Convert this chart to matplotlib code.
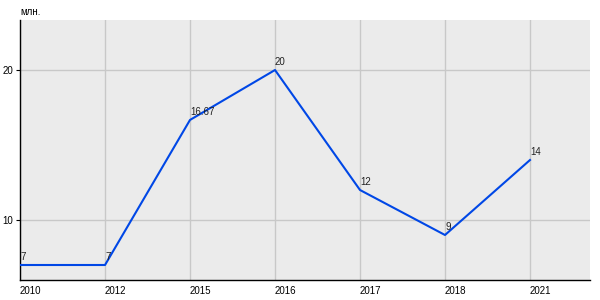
import matplotlib
matplotlib.use("Agg")
import matplotlib.pyplot as plt

years = ["2010", "2012", "2015", "2016", "2017", "2018", "2021"]
values = [7, 7, 16.67, 20, 12, 9, 14]
labels = ["7", "7", "16.67", "20", "12", "9", "14"]
yticks = [10, 20]

plt.rcParams['font.family'] = ['Liberation Sans', 'DejaVu Sans']
fig = plt.figure(figsize=(6, 3), dpi=100)
ax = fig.add_axes([20/600, 20/300, 570/600, 260/300])
ax.set_facecolor("#ebebeb")
x = list(range(len(years)))
ax.plot(x, values, color="#0047e6", lw=1.5, zorder=3)
for xi, v, l in zip(x, values, labels):
    ax.annotate(l, (xi, v), xytext=(0, 2), textcoords="offset points",
                fontsize=7, ha="left", va="bottom", color="#222222", zorder=4)
ax.set_xlim(0, 570/85)
ax.set_ylim(6, 6 + 260/15)
ax.set_xticks(x)
ax.set_xticklabels(years)
ax.set_yticks(yticks)
ax.grid(True, color="#c8c8c8", lw=1)
ax.set_axisbelow(True)
for s in ["top", "right"]:
    ax.spines[s].set_visible(False)
for s in ["left", "bottom"]:
    ax.spines[s].set_color("black")
    ax.spines[s].set_linewidth(1)
ax.tick_params(axis="x", length=0, labelsize=7, pad=4)
ax.tick_params(axis="y", length=3, labelsize=7, pad=2)
for lbl in ax.get_xticklabels():
    lbl.set_ha("left")
fig.text(20/600, 1 - 12/300, "млн.", fontsize=7, ha="left", va="center")
fig.savefig("out.png", dpi=100)
